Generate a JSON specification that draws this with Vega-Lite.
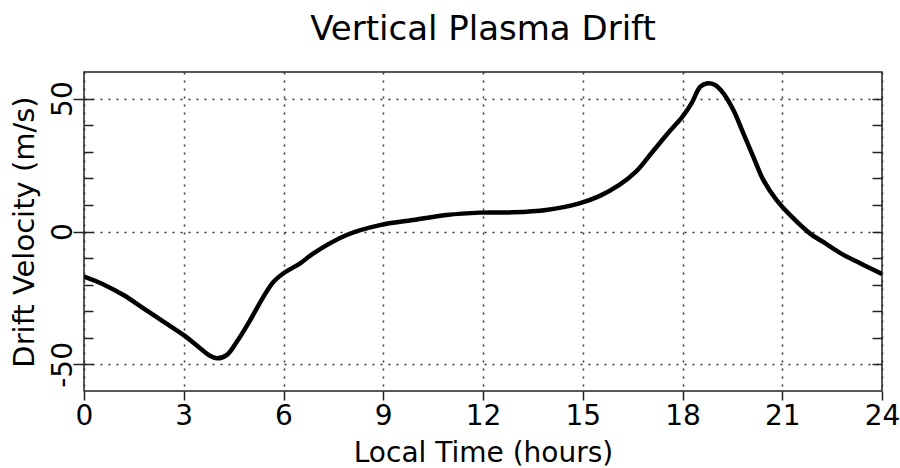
{
  "$schema": "https://vega.github.io/schema/vega-lite/v6.json",
  "autosize": "none",
  "width": 798,
  "height": 319,
  "padding": {"left": 84, "top": 72, "right": 18, "bottom": 77},
  "background": "white",
  "title": {"text": "Vertical Plasma Drift", "font": "DejaVu Sans", "fontSize": 34, "fontWeight": "normal", "color": "black", "offset": 25, "anchor": "middle"},
  "config": {
    "view": {"stroke": "#222", "strokeWidth": 1.5},
    "axis": {"labelFont": "DejaVu Sans", "titleFont": "DejaVu Sans", "labelColor": "black", "titleColor": "black", "tickColor": "#222", "tickWidth": 1.5, "titleFontWeight": "normal", "offset": 0}
  },
  "data": {"values": [
    {"hour": 0, "v": -17}, {"hour": 0.6, "v": -20}, {"hour": 1.2, "v": -24}, {"hour": 1.8, "v": -29},
    {"hour": 2.4, "v": -34}, {"hour": 3.0, "v": -39}, {"hour": 3.5, "v": -44}, {"hour": 3.8, "v": -46.8},
    {"hour": 4.0, "v": -47.7}, {"hour": 4.3, "v": -46.4}, {"hour": 4.6, "v": -41.4}, {"hour": 5.0, "v": -33.3},
    {"hour": 5.4, "v": -24.5}, {"hour": 5.7, "v": -18.9}, {"hour": 6.0, "v": -15.7}, {"hour": 6.5, "v": -12},
    {"hour": 6.9, "v": -8.2}, {"hour": 7.9, "v": -1.3}, {"hour": 8.9, "v": 2.4}, {"hour": 9.9, "v": 4.3},
    {"hour": 10.9, "v": 6.2}, {"hour": 11.9, "v": 7.1}, {"hour": 12.9, "v": 7.2}, {"hour": 13.9, "v": 8.1},
    {"hour": 14.9, "v": 10.6}, {"hour": 15.5, "v": 13.3}, {"hour": 16.1, "v": 17.5}, {"hour": 16.6, "v": 22.5},
    {"hour": 17.1, "v": 30}, {"hour": 17.6, "v": 37.5}, {"hour": 18.0, "v": 43.2}, {"hour": 18.27, "v": 48.2},
    {"hour": 18.53, "v": 54.4}, {"hour": 18.73, "v": 55.7}, {"hour": 18.98, "v": 55.1}, {"hour": 19.23, "v": 52},
    {"hour": 19.53, "v": 45.7}, {"hour": 19.83, "v": 36.9}, {"hour": 20.13, "v": 28.1}, {"hour": 20.43, "v": 19.4},
    {"hour": 20.83, "v": 11.8}, {"hour": 21.33, "v": 5}, {"hour": 21.83, "v": -0.7}, {"hour": 22.3, "v": -4.5},
    {"hour": 22.8, "v": -8.5}, {"hour": 23.3, "v": -11.7}, {"hour": 23.8, "v": -14.8}, {"hour": 24, "v": -16}
  ]},
  "layer": [
    {
      "mark": {"type": "line", "color": "black", "strokeWidth": 4.5, "interpolate": "catmull-rom", "clip": true},
      "encoding": {
        "x": {"field": "hour", "type": "quantitative", "scale": {"domain": [0, 24], "nice": false, "zero": false},
          "axis": {"orient": "bottom", "title": "Local Time (hours)", "values": [0, 3, 6, 9, 12, 15, 18, 21, 24], "tickSize": 9, "labelFontSize": 28, "labelPadding": 2, "titleFontSize": 28, "titlePadding": 9, "domain": false, "grid": true, "gridColor": "#333", "gridDash": [2, 6], "gridWidth": 1.5, "labelFlush": false, "offset": 0}},
        "y": {"field": "v", "type": "quantitative", "scale": {"domain": [-60, 60], "nice": false, "zero": false},
          "axis": {"orient": "left", "title": "Drift Velocity (m/s)", "values": [-50, 0, 50], "labelExpr": "'' + datum.value", "tickSize": 11, "labelAngle": -90, "labelAlign": "center", "labelBaseline": "alphabetic", "labelFontSize": 28, "labelPadding": 2, "titleFontSize": 29, "titlePadding": 10, "domain": false, "grid": true, "gridColor": "#333", "gridDash": [2, 6], "gridWidth": 1.5, "offset": 0}}
      }
    },
    {
      "mark": {"type": "rule", "opacity": 0},
      "encoding": {
        "y": {"field": "v", "type": "quantitative",
          "axis": {"orient": "left", "title": null, "values": [-50, -40, -30, -20, -10, 0, 10, 20, 30, 40, 50], "tickSize": -9, "labels": false, "domain": false, "grid": false, "offset": 0}}
      }
    },
    {
      "mark": {"type": "rule", "opacity": 0},
      "encoding": {
        "y": {"field": "v", "type": "quantitative",
          "axis": {"orient": "right", "title": null, "values": [-50, -40, -30, -20, -10, 0, 10, 20, 30, 40, 50], "tickSize": -10, "labels": false, "domain": false, "grid": false, "offset": 0}}
      }
    }
  ],
  "resolve": {"axis": {"y": "independent"}}
}
